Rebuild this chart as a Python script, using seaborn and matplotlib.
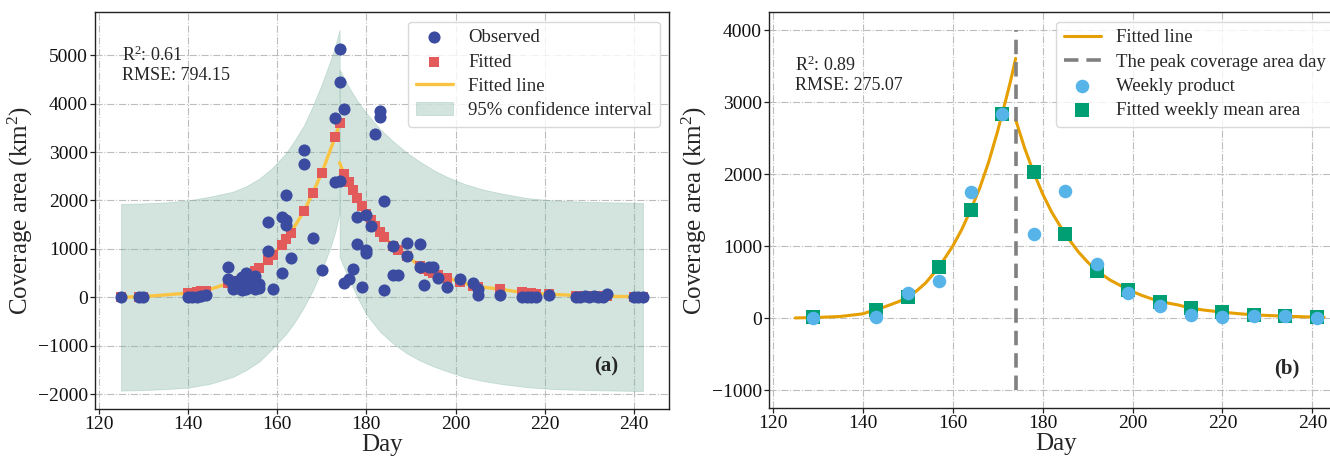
import matplotlib
matplotlib.use("Agg")
import matplotlib.pyplot as plt
import seaborn as sns
import numpy as np
import pandas as pd

# ---------------- Panel (a) data ----------------
obs_day = [125, 129, 130, 140, 141, 142, 143, 144,
           149, 149, 150, 150, 151, 151, 152, 152, 153, 153, 153, 154, 154,
           155, 155, 155, 156, 156, 158, 158, 159, 161, 161, 162, 162, 162, 163,
           166, 166, 168, 170, 173, 173, 174, 174, 174, 175, 175, 176, 177,
           178, 178, 179, 180, 180, 180, 181, 182, 183, 183, 184, 184, 186, 186, 187,
           189, 189, 192, 192, 193, 194, 195, 196, 198, 201, 204, 205, 205, 210,
           215, 216, 217, 218, 221, 227, 228, 229, 230, 231, 232, 233, 234,
           240, 241, 242]
obs_val = [0, 0, 0, 0, 5, 10, 30, 50,
           630, 390, 250, 180, 350, 200, 420, 160, 500, 300, 170, 380, 220,
           450, 250, 180, 280, 200, 1550, 950, 165, 1650, 510, 1590, 1500, 2120, 820,
           3050, 2760, 1220, 575, 3710, 2380, 5130, 4440, 2400, 3880, 290, 380, 580,
           1650, 1100, 225, 1700, 980, 910, 1470, 3370, 3850, 3720, 1990, 160, 1070, 460, 460,
           1130, 860, 1110, 620, 250, 620, 620, 410, 210, 380, 300, 170, 60, 60,
           10, 20, 10, 5, 60, 10, 15, 25, 15, 25, 10, 20, 70,
           5, 5, 0]

fit_rise_day = [125, 129, 130, 140, 141, 142, 143, 144, 149, 150, 151, 152, 153, 154,
                155, 156, 158, 159, 161, 162, 163, 166, 168, 170, 173, 174]
fit_rise_val = [5, 15, 18, 90, 100, 110, 125, 140, 290, 320, 350, 390, 440, 490,
                550, 610, 780, 870, 1090, 1200, 1330, 1780, 2160, 2570, 3310, 3590]
fit_fall_day = [175, 176, 177, 178, 179, 180, 181, 182, 183, 184, 186, 187, 189,
                192, 193, 194, 195, 196, 198, 201, 204, 205, 210, 215, 216, 217, 218,
                221, 227, 228, 229, 230, 231, 232, 233, 234, 240, 241, 242]
fit_fall_val = [2540, 2380, 2215, 2060, 1890, 1715, 1600, 1475, 1340, 1255, 1063, 980, 857,
                652, 583, 550, 514, 470, 411, 322, 240, 226, 171, 103, 95, 88, 80,
                69, 40, 38, 35, 33, 30, 28, 26, 25, 15, 14, 12]
fall_start_day = 174
fall_start_val = 2780

ci_left_day = [125, 130, 135, 140, 145, 150, 153, 156, 159, 162, 164, 166, 168, 170, 172, 173, 174]
ci_left_up = [1930, 1940, 1960, 2000, 2080, 2180, 2290, 2450, 2680, 2980, 3250, 3550, 3950, 4400, 4900, 5180, 5520]
ci_left_lo = [-1920, -1910, -1890, -1860, -1780, -1640, -1500, -1320, -1050, -750, -500, -200, 150, 560, 1050, 1350, 1750]
ci_right_day = [174, 176, 178, 180, 183, 186, 189, 192, 195, 198, 202, 206, 210, 216, 222, 230, 242]
ci_right_up = [4700, 4350, 4050, 3800, 3480, 3220, 2990, 2800, 2630, 2490, 2340, 2230, 2150, 2050, 2000, 1970, 1950]
ci_right_lo = [830, 400, 0, -350, -700, -950, -1150, -1300, -1420, -1520, -1640, -1720, -1780, -1850, -1890, -1910, -1930]

# ---------------- Panel (b) data ----------------
week_day = [129, 143, 150, 157, 164, 171, 178, 185, 192, 199, 206, 213, 220, 227, 234, 241]
week_prod = [0, 14, 346, 521, 1753, 2841, 1176, 1762, 752, 351, 166, 37, 14, 28, 28, 5]
week_fit = [10, 120, 290, 715, 1504, 2841, 2025, 1167, 660, 397, 231, 138, 83, 46, 28, 14]

line_rise_day = [125, 130, 135, 140, 143, 145, 148, 150, 152, 154, 157, 160, 162, 164,
                 166, 168, 170, 171, 172, 173, 174]
line_rise_val = [3, 10, 23, 60, 120, 160, 230, 290, 380, 490, 715, 1000, 1230, 1504,
                 1806, 2170, 2600, 2841, 3080, 3330, 3610]
line_fall_day = [174, 176, 178, 180, 182, 185, 188, 190, 192, 195, 199, 202, 206, 210,
                 213, 216, 220, 224, 227, 230, 234, 238, 241, 242.6]
line_fall_val = [2758, 2363, 2025, 1728, 1475, 1167, 917, 780, 660, 530, 397, 317, 231, 185,
                 138, 111, 83, 60, 46, 37, 28, 19, 14, 12]
peak_day = 174
peak_ymin, peak_ymax = -1000, 4000

# ---------------- Style ----------------
sns.set_style("ticks")
plt.rcParams['font.family'] = ['Liberation Serif', 'DejaVu Serif']
plt.rcParams['mathtext.fontset'] = 'custom'
plt.rcParams['mathtext.rm'] = 'Liberation Serif'
plt.rcParams['mathtext.it'] = 'Liberation Serif:italic'
plt.rcParams['mathtext.bf'] = 'Liberation Serif:bold'

C_OBS = '#3B4CA0'
C_FIT = '#E35A5A'
C_FLINE = '#F9C443'
C_CI = '#7fb3a0'
C_ORANGE = '#E69F00'
C_LBLUE = '#56B4E9'
C_GREEN = '#009E73'

TICK_FS = 14
LAB_FS = 18
LEG_FS = 13.5
TXT_FS = 13

fig = plt.figure(figsize=(13.3, 4.58), dpi=100)
ax1 = fig.add_axes([95 / 1330, 0.107, 574 / 1330, 0.866])
ax2 = fig.add_axes([769 / 1330, 0.109, 574 / 1330, 0.864])

def style_axis(ax):
    ax.set_axisbelow(True)
    ax.grid(True, linestyle='-.', color='#bdbdbd', linewidth=0.8)
    for s in ax.spines.values():
        s.set_color('#222222')
        s.set_linewidth(1.0)
    ax.tick_params(labelsize=TICK_FS, direction='out', length=3.5, width=0.9, colors='#222222', pad=1.5)
    for lab in ax.get_xticklabels() + ax.get_yticklabels():
        lab.set_color('#111111')

# ---------------- Panel (a) ----------------
ci1 = ax1.fill_between(ci_left_day, ci_left_lo, ci_left_up, color=C_CI, alpha=0.35,
                       linewidth=0.6, label='95% confidence interval', zorder=1)
ax1.fill_between(ci_right_day, ci_right_lo, ci_right_up, color=C_CI, alpha=0.35,
                 linewidth=0.6, zorder=1)

df_rise = pd.DataFrame({'day': fit_rise_day, 'val': fit_rise_val})
df_fall = pd.DataFrame({'day': [fall_start_day] + fit_fall_day,
                        'val': [fall_start_val] + fit_fall_val})
sns.lineplot(data=df_rise, x='day', y='val', ax=ax1, color=C_FLINE, lw=2.4,
             sort=False, estimator=None, legend=False, zorder=2)
line_a = ax1.lines[-1]
sns.lineplot(data=df_fall, x='day', y='val', ax=ax1, color=C_FLINE, lw=2.4,
             sort=False, estimator=None, legend=False, zorder=2)

df_fit = pd.DataFrame({'day': fit_rise_day + fit_fall_day, 'val': fit_rise_val + fit_fall_val})
sns.scatterplot(data=df_fit, x='day', y='val', ax=ax1, color=C_FIT, marker='s', s=62,
                linewidth=0, legend=False, zorder=3)
sq_a = ax1.collections[-1]
df_obs = pd.DataFrame({'day': obs_day, 'val': obs_val})
sns.scatterplot(data=df_obs, x='day', y='val', ax=ax1, color=C_OBS, marker='o', s=76,
                linewidth=0, legend=False, zorder=4)
ob_a = ax1.collections[-1]

ax1.set_xlim(119.15, 247.85)
ax1.set_ylim(-2300, 5880)
ax1.set_xticks([120, 140, 160, 180, 200, 220, 240])
ax1.set_yticks([-2000, -1000, 0, 1000, 2000, 3000, 4000, 5000])
ax1.set_xlabel('Day', fontsize=LAB_FS, labelpad=1)
ax1.set_ylabel('Coverage area (km$^2$)', fontsize=LAB_FS, labelpad=2)
style_axis(ax1)
ax1.text(0.047, 0.915, 'R$^2$: 0.61\nRMSE: 794.15', transform=ax1.transAxes,
         fontsize=TXT_FS, va='top', ha='left', linespacing=1.15)
ax1.text(0.912, 0.106, '(a)', transform=ax1.transAxes, fontsize=15, fontweight='bold',
         va='center', ha='right')
ax1.legend([ob_a, sq_a, line_a, ci1], ['Observed', 'Fitted', 'Fitted line', '95% confidence interval'],
           loc='upper right', fontsize=LEG_FS, labelspacing=0.38, frameon=True,
           edgecolor='#d0d0d0', fancybox=True)

# ---------------- Panel (b) ----------------
df_lr = pd.DataFrame({'day': line_rise_day, 'val': line_rise_val})
df_lf = pd.DataFrame({'day': line_fall_day, 'val': line_fall_val})
sns.lineplot(data=df_lr, x='day', y='val', ax=ax2, color=C_ORANGE, lw=2.2,
             sort=False, estimator=None, legend=False, zorder=2)
line_b = ax2.lines[-1]
sns.lineplot(data=df_lf, x='day', y='val', ax=ax2, color=C_ORANGE, lw=2.2,
             sort=False, estimator=None, legend=False, zorder=2)
vline = ax2.vlines(peak_day, peak_ymin, peak_ymax, colors='#808080', linestyles=(0, (4, 2.2)),
                   linewidth=2.6, zorder=2)
df_w = pd.DataFrame({'day': week_day, 'prod': week_prod, 'fit': week_fit})
sns.scatterplot(data=df_w, x='day', y='fit', ax=ax2, color=C_GREEN, marker='s', s=95,
                linewidth=0, legend=False, zorder=3)
sq_b = ax2.collections[-1]
sns.scatterplot(data=df_w, x='day', y='prod', ax=ax2, color=C_LBLUE, marker='o', s=95,
                linewidth=0, legend=False, zorder=4)
ci_b = ax2.collections[-1]

ax2.set_xlim(119.15, 246.8)
ax2.set_ylim(-1250, 4250)
ax2.set_xticks([120, 140, 160, 180, 200, 220, 240])
ax2.set_yticks([-1000, 0, 1000, 2000, 3000, 4000])
ax2.set_xlabel('Day', fontsize=LAB_FS, labelpad=1)
ax2.set_ylabel('Coverage area (km$^2$)', fontsize=LAB_FS, labelpad=2)
style_axis(ax2)
ax2.text(0.045, 0.89, 'R$^2$: 0.89\nRMSE: 275.07', transform=ax2.transAxes,
         fontsize=TXT_FS, va='top', ha='left', linespacing=1.15)
ax2.text(0.925, 0.10, '(b)', transform=ax2.transAxes, fontsize=15, fontweight='bold',
         va='center', ha='right')
ax2.legend([line_b, vline, ci_b, sq_b],
           ['Fitted line', 'The peak coverage area day', 'Weekly product', 'Fitted weekly mean area'],
           loc='upper right', fontsize=LEG_FS, labelspacing=0.38, frameon=True,
           edgecolor='#d0d0d0', fancybox=True)

fig.savefig('out.png', dpi=100)
